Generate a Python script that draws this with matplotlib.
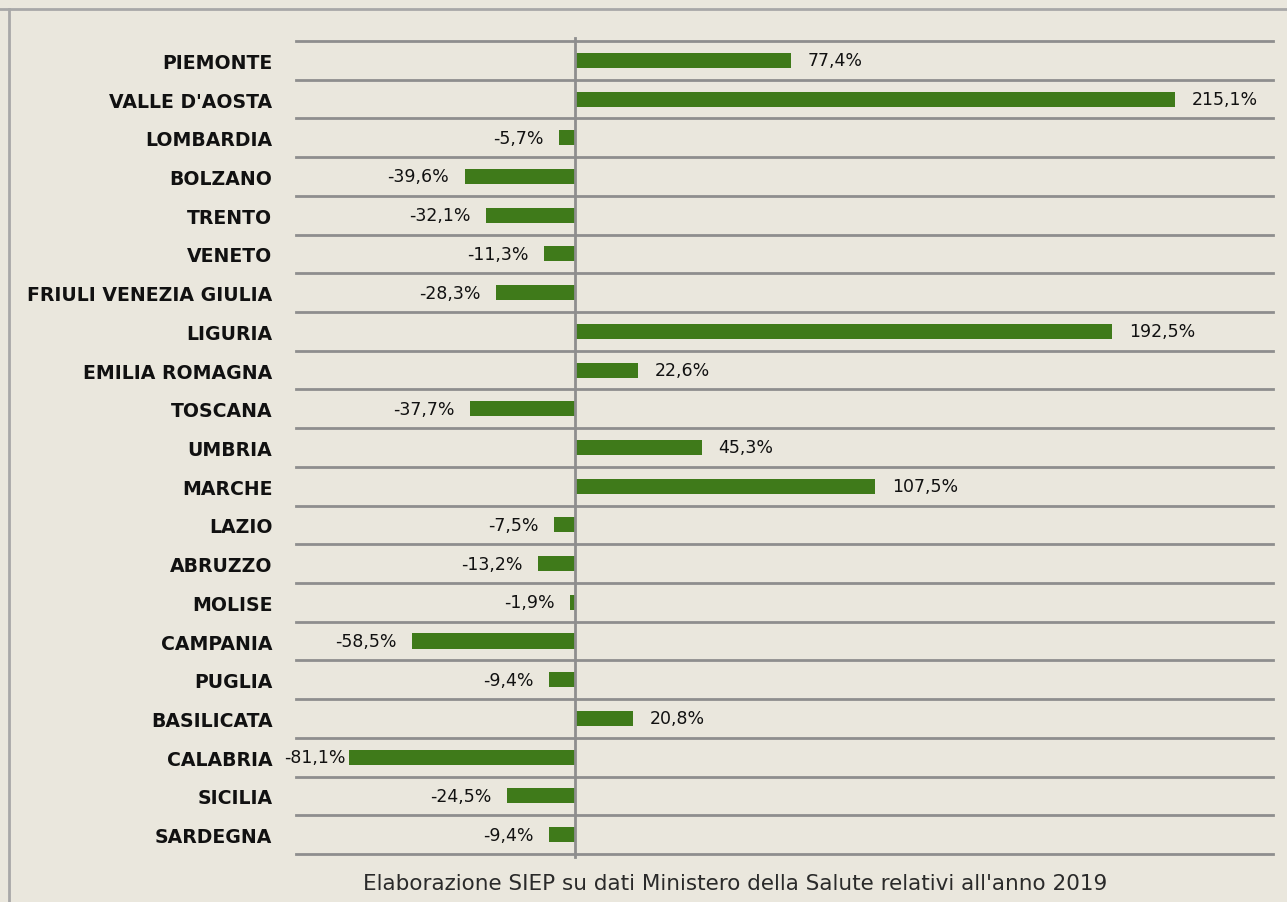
import matplotlib.pyplot as plt
from matplotlib.lines import Line2D

regioni = ['PIEMONTE', "VALLE D'AOSTA", 'LOMBARDIA', 'BOLZANO', 'TRENTO', 'VENETO',
           'FRIULI VENEZIA GIULIA', 'LIGURIA', 'EMILIA ROMAGNA', 'TOSCANA', 'UMBRIA',
           'MARCHE', 'LAZIO', 'ABRUZZO', 'MOLISE', 'CAMPANIA', 'PUGLIA', 'BASILICATA',
           'CALABRIA', 'SICILIA', 'SARDEGNA']
variazione = [77.4, 215.1, -5.7, -39.6, -32.1, -11.3, -28.3, 192.5, 22.6, -37.7, 45.3,
              107.5, -7.5, -13.2, -1.9, -58.5, -9.4, 20.8, -81.1, -24.5, -9.4]

sfondo = '#eae7dd'
verde = '#3f7a1a'
grigio = '#8e8e8e'

fig = plt.figure(figsize=(12.87, 9.03), dpi=100, facecolor=sfondo)
ax = fig.add_axes([0.230, 0.0532, 0.759, 0.9003])
ax.set_facecolor(sfondo)

y = list(range(len(regioni)))
ax.barh(y, variazione, height=0.39, color=verde, zorder=3)

for i, v in enumerate(variazione):
    testo = f'{v:.1f}'.replace('.', ',') + '%'
    if v >= 0:
        ax.annotate(testo, (v, i), xytext=(12, 0), textcoords='offset points',
                    ha='left', va='center', fontsize=12.5, color='#111111')
    else:
        # vicino al bordo sinistro l'etichetta resta attaccata alla barra
        off = -2 if v < -75 else -11
        ax.annotate(testo, (v, i), xytext=(off, 0), textcoords='offset points',
                    ha='right', va='center', fontsize=12.5, color='#111111')

ax.set_xlim(-100, 250)
ax.set_ylim(len(regioni) - 0.5, -0.5)
for b in range(len(regioni) + 1):
    ax.axhline(b - 0.5, color=grigio, lw=2, zorder=2, clip_on=False)
ax.axvline(0, color=grigio, lw=2, zorder=4, ymin=-0.004, ymax=1.004, clip_on=False)

ax.set_yticks(y)
ax.set_yticklabels(regioni, fontsize=13.6, fontweight='bold', color='#111111')
ax.tick_params(axis='y', length=0, pad=17)
ax.set_xticks([])
for s in ax.spines.values():
    s.set_visible(False)

# cornice della pagina
fig.add_artist(Line2D([0, 1], [1 - 10 / 903, 1 - 10 / 903], color='#a8a8a8', lw=2))
fig.add_artist(Line2D([9 / 1287, 9 / 1287], [0, 1 - 10 / 903], color='#a8a8a8', lw=2))

fig.text(735 / 1287, 1 - 884 / 903, "Elaborazione SIEP su dati Ministero della Salute relativi all'anno 2019",
         ha='center', va='center', fontsize=15.5, color='#2a2a2a')

fig.savefig('out.png', dpi=100, facecolor=sfondo)
